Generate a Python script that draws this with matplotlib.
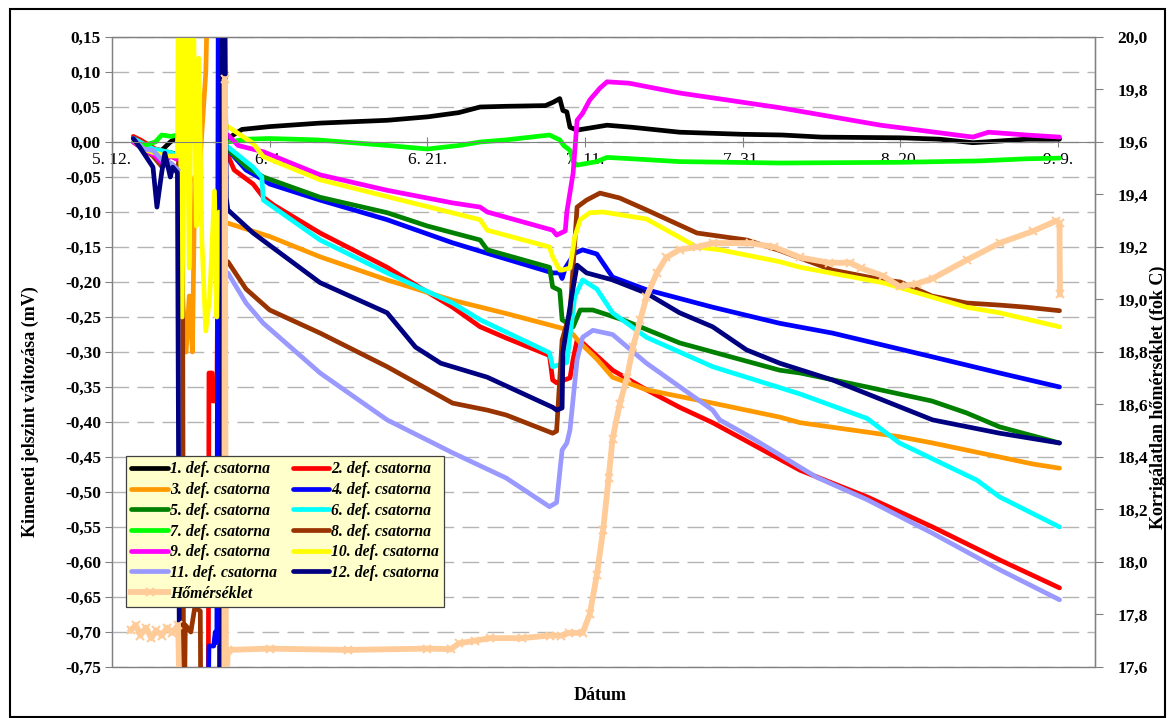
import numpy as np
import matplotlib
matplotlib.use("Agg")
import matplotlib.pyplot as plt
from matplotlib.ticker import FuncFormatter, MultipleLocator
from matplotlib.patches import Rectangle

nan = np.nan

# x: napok 5.12. óta, y: jelszint változás (mV)
ch1_t = [2.7, 3.6, 5.2, 6.3, 7.4, 8.4, nan, 14.7, 16.5, 20.0, 26.4, 34.9, 40.1, 44.0, 46.7, 50.0, 55.0, 56.0, 56.8,
         57.2, 57.7, 58.1, 59.0, 62.8, 66.0, 72.0, 80.0, 85.0, 90.0, 100.0, 105.0, 109.2, 112.0, 116.0, 120.2]
ch1_v = [0.005, -0.002, -0.010, -0.012, 0.000, 0.008, nan, 0.005, 0.018, 0.022, 0.027, 0.031, 0.036, 0.042, 0.050,
         0.051, 0.052, 0.057, 0.062, 0.045, 0.043, 0.021, 0.017, 0.024, 0.021, 0.014, 0.011, 0.010, 0.007, 0.006,
         0.004, -0.001, 0.001, 0.004, 0.004]

ch2_t = [2.7, 3.6, 5.2, 6.3, 7.4, 8.4, nan, 12.2, 12.3, 12.7, 12.8, 13.3, 13.4, 13.75, 13.8, nan, 14.7, 15.5, 17.9,
         19.2, 20.5, 26.4, 34.9, 40.1, 43.2, 46.7, 50.0, 55.5, 55.9, 56.4, 58.1, 58.5, 59.0, 59.7, 63.5, 67.8, 72.0,
         76.2, 87.3, 95.8, 104.1, 112.6, 120.2]
ch2_v = [0.008, 0.003, -0.008, -0.015, -0.020, -0.025, nan, -0.9, -0.33, -0.33, -0.37, -0.37, -0.21, -0.21, -0.9, nan,
         -0.019, -0.040, -0.060, -0.079, -0.090, -0.130, -0.179, -0.215, -0.236, -0.264, -0.280, -0.305, -0.340,
         -0.344, -0.337, -0.310, -0.283, -0.287, -0.326, -0.354, -0.379, -0.401, -0.469, -0.507, -0.550, -0.597,
         -0.637]

ch3_t = [2.7, 5.2, 7.4, 8.4, 9.0, 9.4, 9.8, 10.2, 10.5, 10.9, 11.2, 11.5, 11.9, 12.3, nan, 14.7, 20.0, 26.4, 34.9,
         43.2, 50.0, 56.4, 57.7, 58.5, 59.4, 61.5, 63.5, 67.8, 76.2, 84.7, 87.3, 99.9, 104.1, 112.6, 116.8, 120.2]
ch3_v = [0.005, -0.010, -0.015, -0.020, -0.23, -0.30, -0.22, -0.30, -0.05, -0.11, -0.02, 0.03, 0.10, 0.30, nan,
         -0.116, -0.135, -0.164, -0.197, -0.226, -0.245, -0.264, -0.268, -0.275, -0.287, -0.310, -0.336, -0.354,
         -0.373, -0.393, -0.401, -0.421, -0.430, -0.450, -0.460, -0.466]

ch4_t = [2.7, 5.2, 7.4, 8.4, nan, 12.1, 12.3, 12.9, 13.1, 13.3, 13.5, nan, 14.7, 17.0, 19.2, 20.0, 26.4, 34.9, 43.2,
         47.6, 55.9, 56.8, 57.1, 57.5, 58.7, 59.7, 61.5, 63.5, 67.8, 76.2, 84.7, 91.4, 104.1, 112.6, 120.2]
ch4_v = [0.005, -0.012, -0.018, -0.020, nan, -0.9, -0.72, -0.72, -0.70, -0.715, 0.3, nan, -0.011, -0.040, -0.054,
         -0.060, -0.083, -0.111, -0.144, -0.159, -0.187, -0.187, -0.195, -0.180, -0.159, -0.154, -0.160, -0.193,
         -0.211, -0.236, -0.259, -0.273, -0.307, -0.330, -0.350]

ch5_t = [2.7, 5.2, 7.4, 8.4, nan, 10.2, 10.4, nan, 14.7, 17.0, 19.2, 26.4, 34.9, 40.0, 46.7, 47.6, 55.5, 55.9, 56.8,
         57.1, 58.5, 59.4, 61.0, 64.8, 72.0, 84.7, 87.3, 95.8, 104.0, 108.4, 112.6, 120.2]
ch5_v = [0.005, -0.012, -0.015, -0.018, nan, 0.13, 0.3, nan, -0.011, -0.035, -0.050, -0.079, -0.101, -0.120, -0.140,
         -0.154, -0.179, -0.207, -0.212, -0.254, -0.264, -0.240, -0.240, -0.254, -0.287, -0.326, -0.330, -0.350,
         -0.370, -0.387, -0.407, -0.430]

ch6_t = [2.7, 5.2, 7.4, 8.4, nan, 14.7, 17.9, 19.0, 19.2, 26.4, 34.9, 43.2, 46.7, 55.5, 55.9, 57.7, 58.7, 59.7, 61.5,
         63.5, 67.8, 76.2, 87.3, 95.8, 99.9, 109.7, 112.6, 120.2]
ch6_v = [0.005, -0.010, -0.015, -0.020, nan, -0.007, -0.036, -0.050, -0.083, -0.140, -0.187, -0.230, -0.254, -0.301,
         -0.321, -0.315, -0.221, -0.197, -0.210, -0.244, -0.279, -0.321, -0.360, -0.395, -0.430, -0.483, -0.507,
         -0.550]

ch7_t = [2.7, 4.0, 5.5, 6.3, 7.5, 8.3, nan, 14.7, 17.0, 20.0, 26.0, 35.0, 40.0, 44.0, 46.7, 50.0, 55.5, 56.8, 57.3,
         58.1, 58.5, 59.0, 61.5, 62.8, 66.0, 72.0, 84.7, 100.0, 110.0, 116.0, 120.2]
ch7_v = [0.000, -0.005, 0.000, 0.010, 0.008, 0.010, nan, 0.000, 0.004, 0.005, 0.003, -0.005, -0.010, -0.005, 0.000,
         0.003, 0.010, 0.003, -0.005, -0.012, -0.028, -0.033, -0.028, -0.022, -0.024, -0.028, -0.030, -0.029,
         -0.027, -0.024, -0.023]

ch8_t = [2.7, 5.2, 6.3, 7.4, 8.4, 8.9, 9.1, 9.3, 10.0, 10.5, 11.2, 11.3, nan, 14.7, 17.0, 20.0, 26.4, 34.9, 43.2,
         47.6, 50.0, 55.9, 56.4, 57.1, 58.1, 58.7, 59.0, 60.2, 61.9, 64.4, 67.8, 74.2, 80.5, 84.7, 91.4, 97.8, 100.0,
         104.0, 108.4, 112.6, 116.0, 120.2]
ch8_v = [0.000, -0.020, -0.035, -0.030, -0.040, 0.08, -0.9, -0.69, -0.70, -0.665, -0.67, -0.9, nan, -0.171, -0.210,
         -0.240, -0.273, -0.321, -0.373, -0.383, -0.390, -0.416, -0.413, -0.283, -0.244, -0.144, -0.093, -0.083,
         -0.073, -0.080, -0.097, -0.130, -0.140, -0.155, -0.183, -0.197, -0.200, -0.220, -0.230, -0.233, -0.236,
         -0.241]

ch9_t = [2.7, 4.0, 5.5, 6.3, 7.5, 8.3, nan, 14.7, 16.0, 19.2, 26.4, 34.9, 43.2, 46.7, 47.6, 55.9, 56.4, 57.5, 57.7,
         58.5, 59.0, 59.7, 60.6, 61.9, 62.8, 65.6, 72.0, 84.7, 97.5, 109.2, 111.2, 116.0, 120.2]
ch9_v = [0.000, -0.010, -0.020, -0.030, -0.020, -0.025, nan, 0.010, -0.005, -0.014, -0.047, -0.069, -0.087, -0.093,
         -0.100, -0.126, -0.133, -0.127, -0.100, -0.044, 0.031, 0.041, 0.060, 0.077, 0.086, 0.084, 0.070, 0.049,
         0.024, 0.007, 0.014, 0.010, 0.007]

ch10_t = [2.7, 4.0, 5.2, 7.0, 8.3, 8.45, 8.9, 9.3, 9.8, 10.2, 10.7, 11.0, 11.4, 11.9, 12.4, 13.0, 13.3, 13.6, nan,
          14.7, 17.9, 19.2, 26.4, 34.9, 46.7, 47.6, 55.5, 55.9, 56.8, 57.1, 58.1, 58.7, 59.4, 60.6, 62.3, 67.8, 74.2,
          77.1, 84.7, 87.3, 97.8, 108.4, 112.6, 120.2]
ch10_v = [0.003, -0.010, -0.015, -0.020, -0.020, 0.3, -0.25, 0.3, -0.18, 0.3, -0.12, 0.12, -0.14, -0.27, -0.22,
          -0.07, -0.25, -0.10, nan, 0.022, -0.002, -0.021, -0.054, -0.078, -0.111, -0.126, -0.150, -0.164, -0.183,
          -0.183, -0.180, -0.136, -0.111, -0.101, -0.100, -0.110, -0.150, -0.154, -0.171, -0.179, -0.201, -0.236,
          -0.244, -0.264]

ch11_t = [2.7, 4.0, 5.2, 6.3, 7.4, 8.4, nan, 14.7, 17.0, 19.2, 26.4, 34.9, 43.2, 50.0, 55.5, 56.4, 57.1, 57.7, 58.1,
          59.0, 59.7, 61.0, 63.5, 67.8, 76.2, 77.1, 80.9, 89.4, 95.8, 104.1, 112.6, 120.2]
ch11_v = [0.005, -0.010, -0.012, -0.025, -0.030, -0.040, nan, -0.187, -0.230, -0.259, -0.330, -0.397, -0.444,
          -0.480, -0.521, -0.515, -0.440, -0.430, -0.411, -0.311, -0.279, -0.269, -0.275, -0.316, -0.383, -0.397,
          -0.421, -0.479, -0.511, -0.559, -0.611, -0.654]

ch12_t = [2.7, 3.5, 5.2, 5.7, 6.3, 6.7, 7.4, 7.7, 8.3, 8.6, 13.6, 13.65, 13.9, 14.0, 14.25, 14.5, 14.7, 17.9, 26.4,
          34.9, 38.5, 41.7, 47.6, 55.9, 56.4, 57.1, 57.2, 58.3, 59.0, 60.2, 63.5, 67.8, 72.0, 76.2, 80.5, 84.7, 91.4,
          104.1, 112.6, 120.2]
ch12_v = [0.005, -0.007, -0.036, -0.093, -0.044, -0.016, -0.050, -0.036, -0.044, -0.9, -0.9, -0.72, -0.72, 0.3, 0.3,
          -0.080, -0.097, -0.130, -0.201, -0.244, -0.293, -0.316, -0.336, -0.379, -0.383, -0.380, -0.301, -0.221,
          -0.176, -0.187, -0.197, -0.216, -0.244, -0.264, -0.297, -0.316, -0.340, -0.397, -0.416, -0.430]

# hőmérséklet (fok C), jobb tengely
temp_t = [2.4, 3.0, 3.6, 4.3, 5.0, 5.6, 6.3, 7.0, 7.6, 8.4, 8.55, 14.25, 14.3, 14.45, 14.7, 20.0, 30.0, 40.0, 43.0,
          44.0, 46.0, 48.0, 52.0, 55.5, 57.0, 58.0, 59.7, 60.6, 61.5, 62.3, 63.0, 63.5, 64.4, 65.3, 66.1, 67.0, 67.8,
          69.1, 70.3, 72.0, 74.2, 76.2, 80.9, 84.0, 87.3, 91.0, 93.6, 95.0, 97.8, 99.9, 102.1, 104.1, 108.4, 112.6,
          116.8, 119.8, 120.2, 120.25]
temp_v = [17.74, 17.76, 17.72, 17.75, 17.71, 17.74, 17.72, 17.75, 17.73, 17.76, 17.50, 17.50, 19.84, 17.50, 17.665,
          17.67, 17.665, 17.67, 17.668, 17.69, 17.70, 17.71, 17.71, 17.72, 17.72, 17.73, 17.73, 17.80, 17.95, 18.12,
          18.32, 18.47, 18.60, 18.70, 18.82, 18.92, 19.01, 19.10, 19.16, 19.19, 19.20, 19.215, 19.215, 19.20, 19.16,
          19.14, 19.14, 19.12, 19.09, 19.05, 19.06, 19.08, 19.15, 19.215, 19.26, 19.30, 19.29, 19.02]

tick_days = [0, 20, 40, 60, 80, 100, 120]
tick_labels = ["5. 12.", "6. 1.", "6. 21.", "7. 11.", "7. 31.", "8. 20.", "9. 9."]

channels = [
    ("1. def. csatorna", ch1_t, ch1_v, "#000000"),
    ("2. def. csatorna", ch2_t, ch2_v, "#FF0000"),
    ("3. def. csatorna", ch3_t, ch3_v, "#FF9900"),
    ("4. def. csatorna", ch4_t, ch4_v, "#0000FF"),
    ("5. def. csatorna", ch5_t, ch5_v, "#008000"),
    ("6. def. csatorna", ch6_t, ch6_v, "#00FFFF"),
    ("7. def. csatorna", ch7_t, ch7_v, "#00FF00"),
    ("8. def. csatorna", ch8_t, ch8_v, "#993300"),
    ("9. def. csatorna", ch9_t, ch9_v, "#FF00FF"),
    ("10. def. csatorna", ch10_t, ch10_v, "#FFFF00"),
    ("11. def. csatorna", ch11_t, ch11_v, "#9999FF"),
    ("12. def. csatorna", ch12_t, ch12_v, "#000080"),
]

plt.rcParams["font.family"] = ["Liberation Serif", "DejaVu Serif"]

fig = plt.figure(figsize=(11.69, 7.18), dpi=100)
W, H = 1169, 718
ax = fig.add_axes([112 / W, 1 - 667 / H, (1095 - 112) / W, (667 - 37) / H])
ax2 = ax.twinx()

handles = {}
for name, t, v, col in channels:
    (ln,) = ax.plot(t, v, color=col, lw=3.4, solid_capstyle="round", solid_joinstyle="round")
    handles[name] = ln

(lt,) = ax2.plot(temp_t, temp_v, color="#FFCC99", lw=4.2, marker="x", ms=6, mew=1.5)

gray = "#808080"
ax.set_xlim(0, 124.7)
ax.set_ylim(-0.75, 0.15)
ax.yaxis.set_major_locator(MultipleLocator(0.05))
ax.yaxis.set_major_formatter(FuncFormatter(lambda v, p: f"{round(v, 2) + 0.0:.2f}".replace(".", ",")))
ax.grid(axis="y", color="#B4B4B4", lw=1.0, linestyle=(0, (12, 6)))
ax.set_axisbelow(True)
ax.spines["bottom"].set_position(("data", 0))
for s in ax.spines.values():
    s.set_color(gray)
ax.patch.set_edgecolor(gray)
ax.patch.set_linewidth(1.0)
ax.set_xticks(tick_days)
ax.set_xticklabels(tick_labels)
ax.tick_params(axis="x", direction="inout", length=7, color=gray, labelsize=12.5, pad=4)
ax.tick_params(axis="y", direction="out", length=5, color=gray, labelsize=12.5, pad=3)
for lab in ax.get_yticklabels():
    lab.set_fontweight("bold")

ax2.set_ylim(17.6, 20.0)
ax2.yaxis.set_major_locator(MultipleLocator(0.2))
ax2.yaxis.set_major_formatter(FuncFormatter(lambda v, p: f"{v:.1f}".replace(".", ",")))
ax2.tick_params(axis="y", direction="out", length=6, color=gray, labelsize=12.5, pad=10)
for lab in ax2.get_yticklabels():
    lab.set_fontweight("bold")
for s in ax2.spines.values():
    s.set_visible(False)
ax2.spines["right"].set_visible(True)
ax2.spines["right"].set_color(gray)

order = ["1. def. csatorna", "3. def. csatorna", "5. def. csatorna", "7. def. csatorna", "9. def. csatorna",
         "11. def. csatorna", None, "2. def. csatorna", "4. def. csatorna", "6. def. csatorna",
         "8. def. csatorna", "10. def. csatorna", "12. def. csatorna"]
leg_h = [handles[n] if n else lt for n in order]
leg_l = [n if n else "Hőmérséklet" for n in order]
leg = ax2.legend(leg_h, leg_l, ncol=2, loc="upper left", bbox_to_anchor=(0.0142, 0.335), borderaxespad=0,
                 fancybox=False, facecolor="#FFFFCC", edgecolor="#404040", framealpha=1,
                 prop={"family": "Liberation Serif", "weight": "bold", "style": "italic", "size": 11.3},
                 handlelength=2.3, handletextpad=0.15, columnspacing=1.0, labelspacing=0.3,
                 borderpad=0.35)
leg.get_frame().set_linewidth(0.9)

fig.text(30 / W, 1 - 412 / H, "Kimeneti jelszint változása (mV)", rotation=90, ha="center", va="center",
         fontsize=13, fontweight="bold")
fig.text(1158 / W, 1 - 397 / H, "Korrigálatlan hőmérséklet (fok C)", rotation=90, ha="center", va="center",
         fontsize=13, fontweight="bold")
fig.text(600 / W, 1 - 695 / H, "Dátum", ha="center", va="center", fontsize=13, fontweight="bold")

fig.patches.append(Rectangle((10 / W, 1 / H), 1155 / W, 708 / H, transform=fig.transFigure,
                             fill=False, edgecolor="black", lw=1.5))

fig.savefig("out.png", dpi=100)
